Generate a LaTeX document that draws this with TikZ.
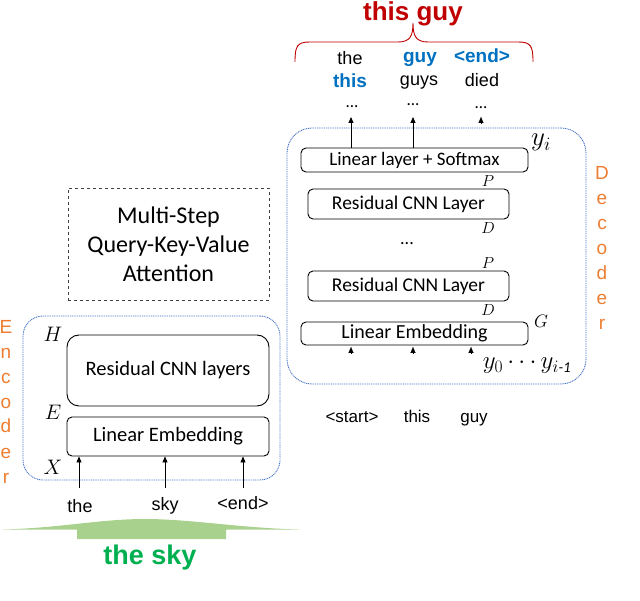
\RequirePackage{fix-cm}
\documentclass[tikz,border=0pt]{standalone}
\usepackage{fontspec}
\setmainfont{Carlito}
\newfontfamily\arial{Liberation Sans}
\usetikzlibrary{arrows.meta}
\definecolor{dotblue}{HTML}{4472C4}
\definecolor{wblue}{HTML}{0070C0}
\definecolor{wred}{HTML}{C00000}
\definecolor{worange}{HTML}{ED7D31}
\definecolor{wgreen}{HTML}{00B050}
\definecolor{lgreen}{HTML}{A9D18E}
\tikzset{
  layerbox/.style={draw, rounded corners=5pt, line width=0.9pt, inner sep=0pt,
    font=\fontsize{19.5}{22}\selectfont},
  groupbox/.style={draw=dotblue, line width=0.9pt, dash pattern=on 1pt off 0.8pt},
  word/.style={font=\arial\fontsize{18}{20}\selectfont, inner sep=0pt, anchor=base},
  bword/.style={font=\arial\bfseries\fontsize{19}{20}\selectfont, text=wblue, inner sep=0pt, anchor=base},
  vletter/.style={font=\arial\fontsize{19}{20}\selectfont, text=worange, inner sep=0pt, anchor=base},
  mlabel/.style={inner sep=0pt, anchor=base},
  smallmath/.style={inner sep=0pt, font=\fontsize{16}{18}\selectfont},
  uparrow/.style={-{Triangle[length=6pt,width=5pt]}, line width=0.8pt},
  tri/.style={-{Triangle[length=6pt,width=5pt]}, line width=0.1pt}
}
\begin{document}
\begin{tikzpicture}[x=1pt,y=-1pt]
\useasboundingbox (0,0) rectangle (640,601);

% ---------------- Decoder ----------------
\node[groupbox, rounded corners=25pt, minimum width=299pt, minimum height=256pt] (dec) at (436.5,256) {};
\node[layerbox, minimum width=227pt, minimum height=24pt, font=\fontsize{19}{20}\selectfont] (lsm) at (414.5,160) {Linear layer + Softmax};
\node[layerbox, minimum width=201pt, minimum height=30pt] (rc1) at (408.5,204) {Residual CNN Layer};
\node[layerbox, minimum width=201pt, minimum height=30pt] (rc2) at (408.5,286) {Residual CNN Layer};
\node[layerbox, minimum width=227pt, minimum height=23pt, font=\fontsize{20}{22}\selectfont] (lemd) at (414.5,333.5) {Linear Embedding};
\node[font=\fontsize{18}{20}\selectfont, inner sep=0pt] (ddots) at (407,244) {...};

\node[mlabel, font=\fontsize{27}{29}\selectfont] (yi) at (541,146) {$y_i$};
\node[smallmath] (p1) at (488,181) {$P$};
\node[smallmath] (d1) at (488,228) {$D$};
\node[smallmath] (p2) at (488,263) {$P$};
\node[smallmath] (d2) at (488,310) {$D$};
\node[mlabel, font=\fontsize{18}{20}\selectfont] (gl) at (541,328) {$G$};
\node[mlabel, font=\fontsize{25}{27}\selectfont] (ys) at (527,369) {$y_0\cdots y_{i\mbox{\fontsize{15}{16}\selectfont\itshape -1}}$};

% bottom input triangles
\coordinate (t1) at (351,353);
\coordinate (t2) at (413,353);
\coordinate (t3) at (471,353);
\draw[tri] (t1) -- ++(0,-6);
\draw[tri] (t2) -- ++(0,-6);
\draw[tri] (t3) -- ++(0,-6);

% decoder inputs
\node[word, font=\arial\fontsize{17}{20}\selectfont] (start) at (352,423) {<start>};
\node[word, font=\arial\fontsize{17}{20}\selectfont] (ithis) at (417,423) {this};
\node[word, font=\arial\fontsize{17}{20}\selectfont] (iguy) at (474,423) {guy};

% outputs
\coordinate (o1) at (351,117);
\coordinate (o2) at (413,117);
\coordinate (o3) at (481,123);
\draw[uparrow] (lsm.north -| o1) -- (o1);
\draw[uparrow] (lsm.north -| o2) -- (o2);
\draw[tri] (o3) -- ++(0,-6);
\node[font=\fontsize{17}{20}\selectfont, inner sep=0pt] (od1) at (352,107) {...};
\node[font=\fontsize{17}{20}\selectfont, inner sep=0pt] (od2) at (413,105) {...};
\node[font=\fontsize{17}{20}\selectfont, inner sep=0pt] (od3) at (481,108) {...};

\node[word] (wthe) at (350,65) {the};
\node[bword] (wthis) at (350,88) {this};
\node[bword] (wguy) at (420,63) {guy};
\node[word] (wguys) at (419,86) {guys};
\node[bword] (wend) at (482,63) {<end>};
\node[word] (wdied) at (482,87) {died};

% red brace and title
\draw[wred, line width=0.9pt] (295,62) .. controls (295,46) and (297,42) .. (310,42) -- (398,42)
  .. controls (410,42) and (413,36) .. (413,23) .. controls (413,36) and (416,42) .. (428,42)
  -- (518,42) .. controls (531,42) and (533,46) .. (533,62);
\node[anchor=base, inner sep=0pt, font=\arial\bfseries\fontsize{26}{28}\selectfont, text=wred] (tguy) at (413,21) {this guy};

% Decoder vertical label
\node[vletter] (D1) at (602,180) {D};
\node[vletter] (D2) at (602,205) {e};
\node[vletter] (D3) at (602,230) {c};
\node[vletter] (D4) at (602,255) {o};
\node[vletter] (D5) at (602,280) {d};
\node[vletter] (D6) at (602,305) {e};
\node[vletter] (D7) at (602,330) {r};

% ---------------- Attention ----------------
\node[draw, dashed, line width=0.8pt, draw=black!75, minimum width=201pt, minimum height=112pt,
  align=center, font=\fontsize{24}{29}\selectfont] (att) at (168.5,244) {Multi-Step\\Query-Key-Value\\Attention};

% ---------------- Encoder ----------------
\node[groupbox, rounded corners=20pt, minimum width=257pt, minimum height=164pt] (enc) at (151.5,398) {};
\node[layerbox, rounded corners=12pt, minimum width=202pt, minimum height=71pt, font=\fontsize{20.5}{22}\selectfont] (rcl) at (168,370.5) {Residual CNN layers};
\node[layerbox, minimum width=202pt, minimum height=39pt, font=\fontsize{20.5}{22}\selectfont] (leme) at (168,436.5) {Linear Embedding};

\node[mlabel, font=\fontsize{21}{23}\selectfont] (hl) at (53,342) {$H$};
\node[mlabel, font=\fontsize{21}{23}\selectfont] (el) at (53,420) {$E$};
\node[mlabel, font=\fontsize{21}{23}\selectfont] (xl) at (53,475) {$X$};

\coordinate (e1) at (79,488);
\coordinate (e2) at (165,488);
\coordinate (e3) at (243,488);
\draw[uparrow] (e1) -- (leme.south -| e1);
\draw[uparrow] (e2) -- (leme.south -| e2);
\draw[uparrow] (e3) -- (leme.south -| e3);

\node[word] (ethe) at (80,512) {the};
\node[word] (esky) at (165,510) {sky};
\node[word] (eend) at (243,509) {<end>};

% green bump
\fill[lgreen] (3,529.5) .. controls (60,528) and (100,519) .. (145,519)
  .. controls (190,519) and (240,528) .. (299,529.5) -- (226,529.5) -- (226,539)
  -- (77,539) -- (77,529.5) -- cycle;
\node[anchor=base, inner sep=0pt, font=\arial\bfseries\fontsize{27}{29}\selectfont, text=wgreen] (tsky) at (150,564) {the sky};

% Encoder vertical label
\node[vletter] (E1) at (6,334) {E};
\node[vletter] (E2) at (6,359) {n};
\node[vletter] (E3) at (6,384) {c};
\node[vletter] (E4) at (6,409) {o};
\node[vletter] (E5) at (6,433) {d};
\node[vletter] (E6) at (6,458) {e};
\node[vletter] (E7) at (6,483) {r};
\end{tikzpicture}
\end{document}
